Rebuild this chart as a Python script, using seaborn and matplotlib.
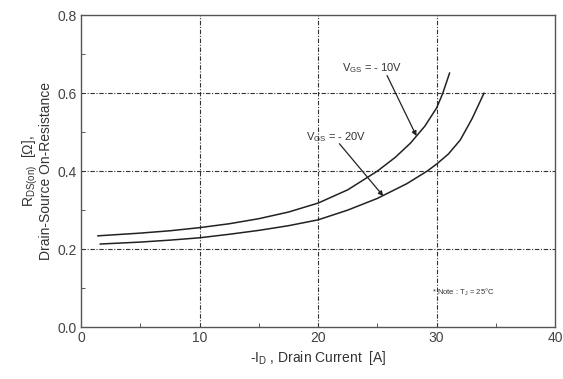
import numpy as np
import pandas as pd
import seaborn as sns
import matplotlib
matplotlib.use("Agg")
import matplotlib.pyplot as plt

# On-resistance vs. drain current for two gate voltages
vgs10_current = [1.4, 5, 7.5, 10, 12.5, 15, 17.5, 20, 22.5, 25, 26.5, 27.8, 29, 30, 30.5, 31.1]
vgs10_rdson = [0.234, 0.241, 0.247, 0.255, 0.265, 0.278, 0.295, 0.318, 0.352, 0.400,
               0.435, 0.472, 0.515, 0.562, 0.598, 0.652]

vgs20_current = [1.6, 5, 7.5, 10, 12.5, 15, 17.5, 20, 22.5, 25, 27.5, 29.2, 30, 31, 32, 33, 34]
vgs20_rdson = [0.213, 0.218, 0.223, 0.229, 0.238, 0.248, 0.260, 0.275, 0.300, 0.330, 0.368,
               0.400, 0.418, 0.444, 0.480, 0.535, 0.600]

series_labels = ["V$_{GS}$ = - 10V", "V$_{GS}$ = - 20V"]
x_ticks = [0, 10, 20, 30, 40]
y_ticks = [0.0, 0.2, 0.4, 0.6, 0.8]
y_tick_labels = ["0.0", "0.2", "0.4", "0.6", "0.8"]

df = pd.concat([
    pd.DataFrame({"current": vgs10_current, "rdson": vgs10_rdson, "vgs": series_labels[0]}),
    pd.DataFrame({"current": vgs20_current, "rdson": vgs20_rdson, "vgs": series_labels[1]}),
])

sns.set_style("white")
plt.rcParams["font.family"] = ["Liberation Sans", "DejaVu Sans"]
plt.rcParams["mathtext.fontset"] = "custom"
plt.rcParams["mathtext.rm"] = "Liberation Sans"
plt.rcParams["mathtext.it"] = "Liberation Sans"

fig = plt.figure(figsize=(5.63, 3.79), dpi=100)
ax = fig.add_axes([0.144, 0.137, 0.842, 0.823])

sns.lineplot(data=df, x="current", y="rdson", hue="vgs", palette=["#222222", "#222222"],
             linewidth=1.1, legend=False, ax=ax, sort=True)

ax.set_xlim(0, 40)
ax.set_ylim(0, 0.8)
ax.set_xticks(x_ticks)
ax.set_yticks(y_ticks)
ax.set_yticklabels(y_tick_labels)
ax.set_xticks([5, 15, 25, 35], minor=True)
ax.set_yticks([0.1, 0.3, 0.5, 0.7], minor=True)
ax.tick_params(which="major", length=0, labelsize=10, labelcolor="#444444", pad=3)
ax.tick_params(which="minor", direction="in", length=3, width=0.7, color="#555555",
               bottom=True, left=True)

for v in [10, 20, 30]:
    ax.axvline(v, color="#333333", lw=0.8, ls=(0, (4, 1.5, 1, 1.5)), zorder=0)
for v in [0.2, 0.4, 0.6]:
    ax.axhline(v, color="#333333", lw=0.8, ls=(0, (4, 1.5, 1, 1.5)), zorder=0)

for s in ax.spines.values():
    s.set_color("#555555")
    s.set_linewidth(1.0)

ax.set_xlabel("-I$_{D}$ , Drain Current  [A]", fontsize=10, color="#333333", labelpad=3)
ax.set_ylabel("R$_{DS(on)}$  [Ω],\nDrain-Source On-Resistance", fontsize=10,
              color="#333333", labelpad=3, linespacing=0.95)

ax.annotate(series_labels[0], xy=(28.3, 0.49), xytext=(22.0, 0.655),
            fontsize=8, color="#333333",
            arrowprops=dict(arrowstyle="-|>", color="#222222", lw=0.9,
                            shrinkA=0, shrinkB=0, mutation_scale=7,
                            patchA=None, relpos=(0.75, 0.0)))
ax.annotate(series_labels[1], xy=(25.5, 0.336), xytext=(19.0, 0.48),
            fontsize=8, color="#333333",
            arrowprops=dict(arrowstyle="-|>", color="#222222", lw=0.9,
                            shrinkA=0, shrinkB=0, mutation_scale=7,
                            patchA=None, relpos=(0.55, 0.0)))

ax.text(29.6, 0.082, "* Note : T$_{J}$ = 25°C", fontsize=5.5, color="#333333")

fig.savefig("out.png", dpi=100)
